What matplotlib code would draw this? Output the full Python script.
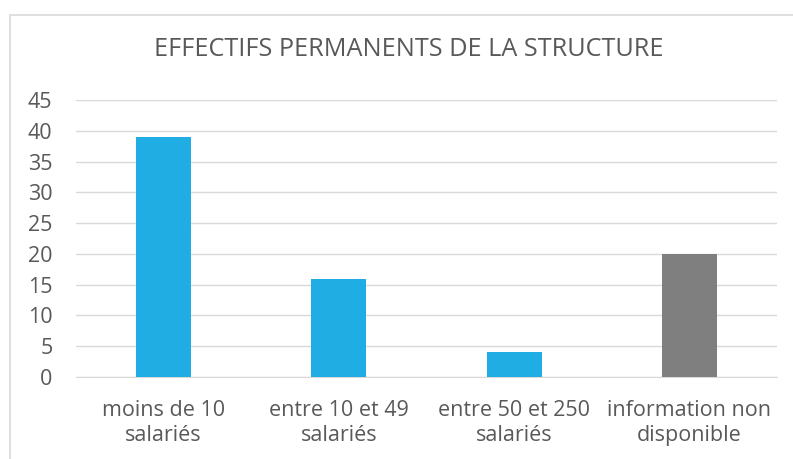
import matplotlib
matplotlib.use("Agg")
import matplotlib.pyplot as plt
from matplotlib.patches import Rectangle

categories = ["moins de 10\nsalariés", "entre 10 et 49\nsalariés", "entre 50 et 250\nsalariés", "information non\ndisponible"]
values = [39, 16, 4, 20]
colors = ["#1FADE4", "#1FADE4", "#1FADE4", "#7F7F7F"]
yticks = [0, 5, 10, 15, 20, 25, 30, 35, 40, 45]
title = "EFFECTIFS PERMANENTS DE LA STRUCTURE"

plt.rcParams['font.family'] = ['Open Sans', 'DejaVu Sans']
W, H = 793, 459
fig = plt.figure(figsize=(W/100, H/100), dpi=100)
fig.patch.set_facecolor("white")
fig.patches.append(Rectangle((10/W, -0.1), 1.0, (459-15)/H + 0.1, transform=fig.transFigure,
                             fill=False, edgecolor="#D9D9D9", linewidth=1.2))

ax = fig.add_axes([76/W, (H-377)/H, (777-76)/W, (377-100)/H])
x = list(range(len(categories)))
ax.bar(x, values, width=55/175.25, color=colors, zorder=3)
ax.set_xlim(-0.5, len(categories) - 0.5)
ax.set_ylim(0, 45)
ax.set_yticks(yticks)
ax.set_xticks(x)
ax.set_xticklabels(categories, fontsize=15.5, color="#595959", linespacing=1.25)
ax.tick_params(axis='y', labelsize=15.5, labelcolor="#595959", length=0, pad=17)
ax.tick_params(axis='x', length=0, pad=16.5)
ax.grid(axis='y', color="#D9D9D9", linewidth=1, zorder=0)
for s in ["top", "right", "left"]:
    ax.spines[s].set_visible(False)
ax.spines["bottom"].set_color("#D9D9D9")
fig.text((152+665)/2/W, (H-50)/H, title, ha="center", va="center", fontsize=18.2, color="#595959")
fig.savefig("out.png", dpi=100)
